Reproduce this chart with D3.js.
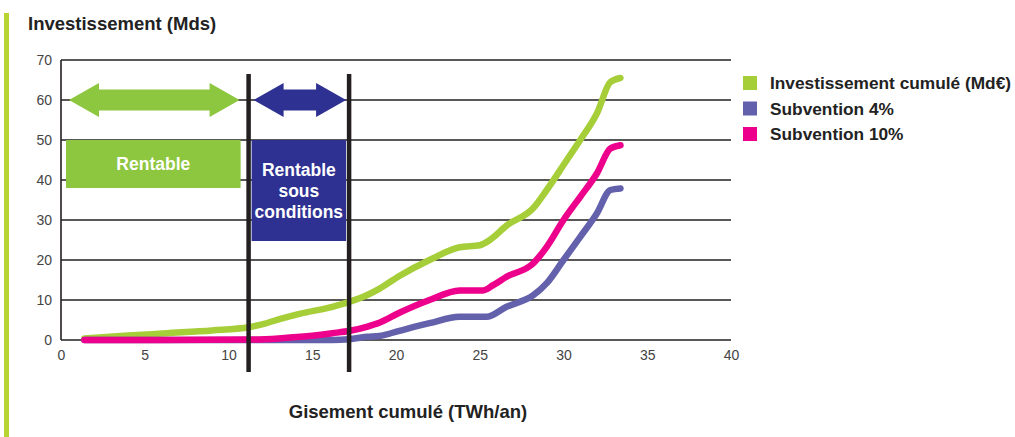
<!DOCTYPE html>
<html><head><meta charset="utf-8">
<script src="https://cdn.jsdelivr.net/npm/d3@7"></script>
<style>
html,body{margin:0;padding:0;background:#fff;}
svg{display:block;font-family:"Liberation Sans",Arial,Helvetica,sans-serif;}
</style></head>
<body><svg id="c" width="1015" height="437"></svg>
<script>
// ---- data ----
const xTicks = [0,5,10,15,20,25,30,35,40];
const yTicks = [0,10,20,30,40,50,60,70];
const seriesNames = ["Investissement cumulé (Md€)","Subvention 4%","Subvention 10%"];
const seriesColors = ["#a6ce39","#6461ac","#ec008c"];
const investX = [1.4,4,6.3,9,11.2,12,13.1,14.3,16.2,17.25,18.25,19.0,20.2,22.0,23.8,25.0,25.6,26.6,28.2,29.0,30.2,31.0,32.0,32.8,33.4];
const investY = [0.4,1.1,1.7,2.4,3.2,3.9,5.3,6.6,8.3,9.6,11.2,12.8,16.0,20.0,23.2,23.7,25.0,28.6,33.0,37.5,45.0,50.0,56.7,64.5,65.5];
const sub4X = [1.4,6,11.2,13,15,16.2,17.2,18.25,19.0,20.2,22.0,23.8,25.4,26.6,28.2,29.0,30.0,31.0,32.0,32.8,33.4];
const sub4Y = [0,0,0,0,0,0,0.2,0.8,1.0,2.3,4.2,5.8,5.8,8.3,11.2,14.2,20.0,25.8,31.7,37.5,37.9];
const sub10X = [1.4,6,11.2,13,14.3,16.2,17.25,18.25,19.0,20.2,22.0,23.8,25.2,25.8,26.6,28.2,29.0,30.0,31.0,32.0,32.8,33.4];
const sub10Y = [0,0,0.1,0.4,0.8,1.7,2.3,3.3,4.3,6.8,10.0,12.4,12.4,13.7,15.8,19.2,23.3,30.0,35.8,41.7,47.9,48.7];
const thresholds = [11.2, 17.2];
const zoneLabels = [["Rentable"],["Rentable","sous","conditions"]];
const zoneColors = ["#8dc63f","#2e3192"];
const yTitle = "Investissement (Mds)";
const xTitle = "Gisement cumulé (TWh/an)";

// ---- drawing ----
const svg = d3.select("#c");
const x = d3.scaleLinear().domain([0,40]).range([61,731]);
const y = d3.scaleLinear().domain([0,70]).range([340,60]);

// left accent bar
svg.append("rect").attr("x",4).attr("y",13).attr("width",5).attr("height",424).attr("fill","#b8d432");

// y title
svg.append("text").attr("x",28).attr("y",30).attr("font-size",18.5).attr("font-weight","bold")
  .attr("fill","#222").text(yTitle);

// gridlines
svg.append("g").selectAll("line").data(yTicks).join("line")
  .attr("x1",x(0)).attr("x2",x(40)).attr("y1",d=>y(d)).attr("y2",d=>y(d))
  .attr("stroke","#231f20").attr("stroke-width",1.6);
// y axis line
svg.append("line").attr("x1",x(0)).attr("x2",x(0)).attr("y1",y(70)).attr("y2",y(0))
  .attr("stroke","#231f20").attr("stroke-width",1.6);

// y tick labels
const yAxis = svg.append("g").attr("transform",`translate(${x(0)},0)`)
  .call(d3.axisLeft(y).tickValues(yTicks).tickSize(0).tickPadding(9));
yAxis.select(".domain").remove();
yAxis.selectAll("text").attr("font-size",14).attr("fill","#444").attr("font-family","Liberation Sans, Arial, sans-serif");

// x tick labels
const xAxis = svg.append("g").attr("transform",`translate(0,${y(0)})`)
  .call(d3.axisBottom(x).tickValues(xTicks).tickSize(0).tickPadding(10));
xAxis.select(".domain").remove();
xAxis.selectAll("text").attr("font-size",14).attr("fill","#444").attr("font-family","Liberation Sans, Arial, sans-serif");

// zone boxes
const boxes = [
  {x0:x(0)+5, x1:x(thresholds[0])-8, yTop:y(50), yBot:y(38)},
  {x0:x(thresholds[0])+3, x1:x(thresholds[1])-3, yTop:y(50), yBot:y(24.75)}
];
boxes.forEach((b,i)=>{
  svg.append("rect").attr("x",b.x0).attr("y",b.yTop).attr("width",b.x1-b.x0).attr("height",b.yBot-b.yTop)
    .attr("fill",zoneColors[i]);
  const lines = zoneLabels[i];
  const cx = (b.x0+b.x1)/2;
  const t = svg.append("text").attr("text-anchor","middle").attr("fill","#fff")
    .attr("font-weight","bold").attr("font-size",17.5);
  if(lines.length===1){
    t.append("tspan").attr("x",cx).attr("y",(b.yTop+b.yBot)/2+6).text(lines[0]);
  } else {
    lines.forEach((l,j)=>t.append("tspan").attr("x",cx).attr("y",176+j*21).text(l));
  }
});

// double arrows
function dblArrow(xa, xb, color){
  const yc = y(60), hh = 17, sh = 10.5, hl = 30;
  const p = [[xa,yc],[xa+hl,yc-hh],[xa+hl,yc-sh],[xb-hl,yc-sh],[xb-hl,yc-hh],[xb,yc],
             [xb-hl,yc+hh],[xb-hl,yc+sh],[xa+hl,yc+sh],[xa+hl,yc+hh]];
  svg.append("path").attr("d","M"+p.map(d=>d.join(",")).join("L")+"Z").attr("fill",color);
}
dblArrow(x(0)+8, x(thresholds[0])-9, zoneColors[0]);
dblArrow(x(thresholds[0])+5, x(thresholds[1])-3, zoneColors[1]);

// series lines
const line = d3.line().x(d=>x(d[0])).y(d=>y(d[1])).curve(d3.curveMonotoneX);
const series = [
  d3.zip(investX, investY),
  d3.zip(sub4X, sub4Y),
  d3.zip(sub10X, sub10Y)
];
series.forEach((s,i)=>{
  svg.append("path").attr("d",line(s)).attr("fill","none").attr("stroke",seriesColors[i])
    .attr("stroke-width",6.5).attr("stroke-linecap","round").attr("stroke-linejoin","round");
});

// threshold vertical lines
svg.append("g").selectAll("line").data(thresholds).join("line")
  .attr("x1",d=>x(d)).attr("x2",d=>x(d)).attr("y1",74).attr("y2",372)
  .attr("stroke","#231f20").attr("stroke-width",4.5);

// x title
svg.append("text").attr("x",408).attr("y",418).attr("text-anchor","middle").attr("font-size",18.5)
  .attr("font-weight","bold").attr("fill","#222").text(xTitle);

// legend
const lg = svg.append("g");
seriesNames.forEach((n,i)=>{
  const yy = 83 + i*25.5;
  lg.append("rect").attr("x",743).attr("y",yy-7).attr("width",14).attr("height",14).attr("fill",seriesColors[i]);
  lg.append("text").attr("x",770).attr("y",yy+6).attr("font-size",17.3).attr("font-weight","bold")
    .attr("fill","#222").text(n);
});
</script></body></html>
